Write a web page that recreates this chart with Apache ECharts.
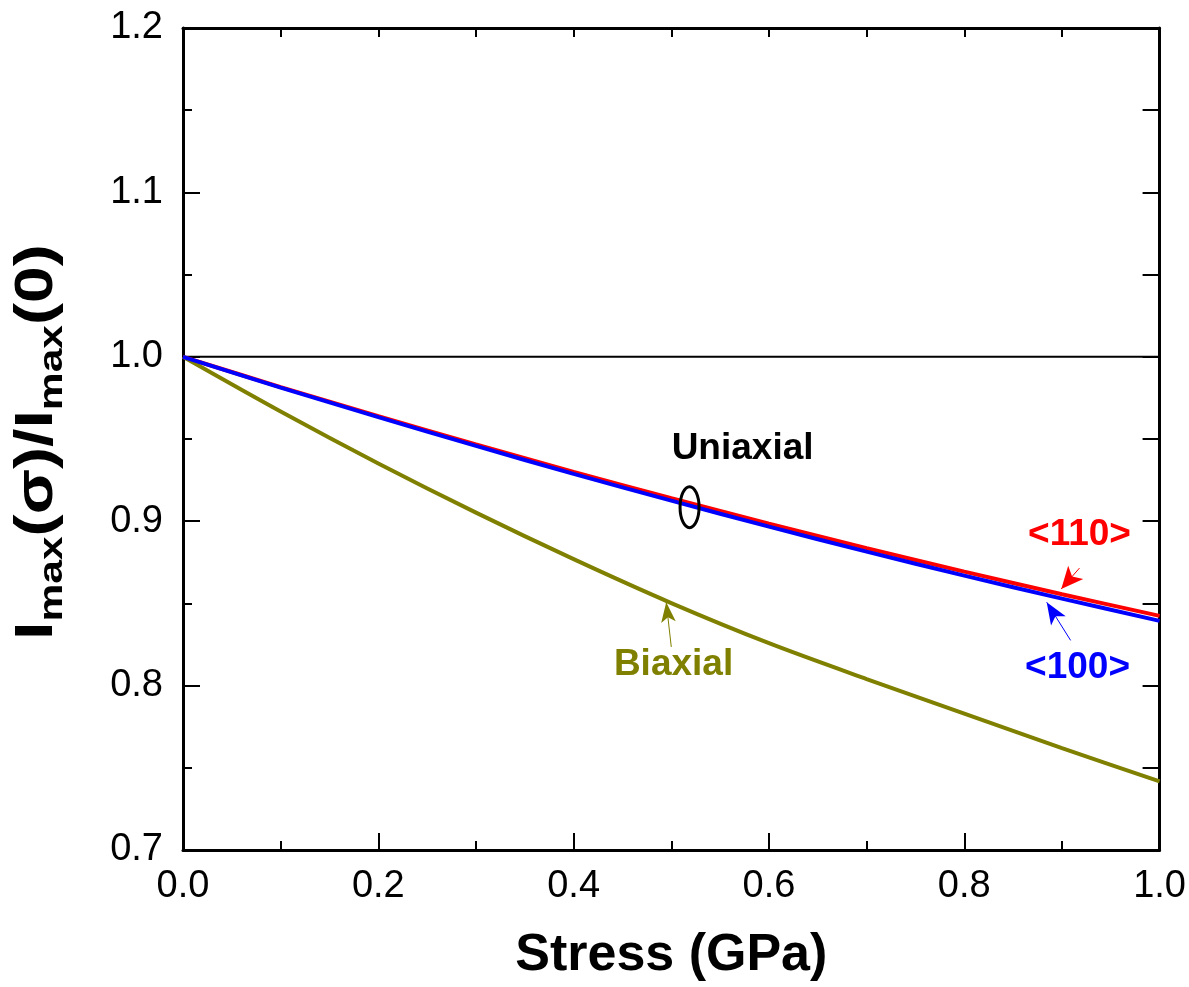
<!DOCTYPE html>
<html>
<head>
<meta charset="utf-8">
<script src="https://cdn.jsdelivr.net/npm/echarts@6/dist/echarts.min.js"></script>
<style>
html,body{margin:0;padding:0;background:#fff;}
#chart{width:1189px;height:987px;}
</style>
</head>
<body>
<div id="chart"></div>
<script>
// ---- data ----
const stress   = [0, 0.1, 0.2, 0.3, 0.4, 0.5, 0.6, 0.7, 0.8, 0.9, 1.0];
const uni110   = [1.000, 0.9816, 0.9639, 0.9467, 0.9300, 0.9140, 0.8985, 0.8836, 0.8693, 0.8556, 0.8424];
const uni100   = [1.000, 0.9813, 0.9633, 0.9458, 0.9288, 0.9125, 0.8967, 0.8815, 0.8669, 0.8529, 0.8394];
const biaxial  = [1.000, 0.9667, 0.9351, 0.9052, 0.8769, 0.8502, 0.8258, 0.8040, 0.7830, 0.7620, 0.7418];
const refX     = [0, 1];
const refY     = [1, 1];
const xTicks   = [0.0, 0.2, 0.4, 0.6, 0.8, 1.0];
const yTicks   = [0.7, 0.8, 0.9, 1.0, 1.1, 1.2];
// annotation anchors (data coords)
const arrow110 = [[0.918, 0.8715], [0.8993, 0.8588]];
const arrow100 = [[0.9089, 0.8275], [0.8844, 0.8507]];
const arrowBi  = [[0.500, 0.8235], [0.4948, 0.8507]];

const FONT = 'Arial, "Liberation Sans", sans-serif';
const pair = (xs, ys) => xs.map((x, i) => [x, ys[i]]);

const chart = echarts.init(document.getElementById('chart'), null, {renderer: 'canvas'});

function arrowML(seg, color, size) {
  return {
    silent: true,
    animation: false,
    symbol: ['none', 'arrow'],
    symbolSize: size,
    label: {show: false},
    emphasis: {disabled: true},
    lineStyle: {color: color, width: 1, type: 'solid'},
    data: [[{coord: seg[0]}, {coord: seg[1]}]]
  };
}

const option = {
  animation: false,
  backgroundColor: '#ffffff',
  grid: {left: 183, right: 29, top: 28, bottom: 135, containLabel: false},
  xAxis: [{
    type: 'value', min: 0, max: 1, interval: 0.2, position: 'bottom',
    name: 'Stress (GPa)', nameLocation: 'middle', nameGap: 80,
    nameTextStyle: {fontFamily: FONT, fontSize: 52, fontWeight: 'bold', color: '#000'},
    axisLine: {show: true, onZero: false, lineStyle: {color: '#000', width: 3}},
    axisTick: {show: true, inside: true, length: 17, lineStyle: {color: '#000', width: 2}},
    minorTick: {show: true, splitNumber: 2, length: 9, lineStyle: {color: '#000', width: 2}},
    splitLine: {show: false},
    axisLabel: {fontFamily: FONT, fontSize: 38, color: '#000', margin: 18,
      formatter: v => { const t = xTicks.find(k => Math.abs(k - v) < 1e-6); return t !== undefined ? t.toFixed(1) : ''; }}
  }, {
    type: 'value', min: 0, max: 1, interval: 0.1, position: 'top',
    axisLine: {show: true, onZero: false, lineStyle: {color: '#000', width: 3}},
    axisTick: {show: true, inside: true, length: 9, lineStyle: {color: '#000', width: 2}},
    splitLine: {show: false}, axisLabel: {show: false}
  }],
  yAxis: [{
    type: 'value', min: 0.7, max: 1.2, interval: 0.1, position: 'left',
    axisLine: {show: true, onZero: false, lineStyle: {color: '#000', width: 3}},
    axisTick: {show: true, inside: true, length: 17, lineStyle: {color: '#000', width: 2}},
    minorTick: {show: true, splitNumber: 2, length: 9, lineStyle: {color: '#000', width: 2}},
    splitLine: {show: false},
    axisLabel: {fontFamily: FONT, fontSize: 38, color: '#000', margin: 20,
      formatter: v => { const t = yTicks.find(k => Math.abs(k - v) < 1e-6); return t !== undefined ? t.toFixed(1) : ''; }}
  }, {
    type: 'value', min: 0.7, max: 1.2, interval: 0.05, position: 'right',
    axisLine: {show: true, onZero: false, lineStyle: {color: '#000', width: 3}},
    axisTick: {show: true, inside: true, length: 17, lineStyle: {color: '#000', width: 2}},
    splitLine: {show: false}, axisLabel: {show: false}
  }],
  series: [
    {
      name: 'ref', type: 'line', data: pair(refX, refY), symbol: 'none',
      lineStyle: {color: '#000', width: 2}, silent: true, z: 2
    },
    {
      name: '<110>', type: 'line', data: pair(stress, uni110), symbol: 'none', smooth: 0.3,
      lineStyle: {color: '#ff0000', width: 4}, z: 3,
      markLine: arrowML(arrow110, '#ff0000', [15, 22])
    },
    {
      name: '<100>', type: 'line', data: pair(stress, uni100), symbol: 'none', smooth: 0.3,
      lineStyle: {color: '#0000ff', width: 4}, z: 4,
      markLine: arrowML(arrow100, '#0000ff', [13, 22])
    },
    {
      name: 'Biaxial', type: 'line', data: pair(stress, biaxial), symbol: 'none', smooth: 0.3,
      lineStyle: {color: '#808000', width: 4}, z: 3,
      markLine: arrowML(arrowBi, '#808000', [11, 20])
    }
  ]
};
chart.setOption(option);

// annotations positioned from data coordinates
function px(pt) { return chart.convertToPixel({gridIndex: 0}, pt); }
const annos = [
  {text: 'Uniaxial', at: [0.573, 0.9442], color: '#000'},
  {text: '<110>',    at: [0.918, 0.8915], color: '#ff0000'},
  {text: '<100>',    at: [0.916, 0.8109], color: '#0000ff'},
  {text: 'Biaxial',  at: [0.5023, 0.8127], color: '#808000'}
];
const ell = px([0.5187, 0.9085]);
const gTop = px([0, 1.2]), gBot = px([0, 0.7]);
chart.setOption({
  graphic: annos.map(a => {
    const p = px(a.at);
    return {
      type: 'text', x: p[0], y: p[1], z: 10,
      style: {text: a.text, fill: a.color, fontFamily: FONT, fontSize: 37, fontWeight: 'bold',
        align: 'center', verticalAlign: 'middle'}
    };
  }).concat([{
    type: 'ellipse', z: 10,
    shape: {cx: ell[0], cy: ell[1], rx: 9.5, ry: 20.5},
    style: {fill: 'none', stroke: '#000', lineWidth: 3}
  }, {
    // y-axis title with subscripts
    type: 'text', z: 10,
    x: 37, y: (gTop[1] + gBot[1]) / 2 + 3,
    rotation: Math.PI / 2, scaleX: 1.25,
    style: {
      text: '{m|I}{s|max}{m|(σ)/I}{s|max}{m|(0)}',
      align: 'center', verticalAlign: 'middle',
      rich: {
        m: {fontFamily: FONT, fontSize: 53, fontWeight: 'bold', fill: '#000', lineHeight: 66},
        s: {fontFamily: FONT, fontSize: 34, fontWeight: 'bold', fill: '#000', lineHeight: 20, verticalAlign: 'bottom'}
      }
    }
  }])
});
</script>
</body>
</html>
